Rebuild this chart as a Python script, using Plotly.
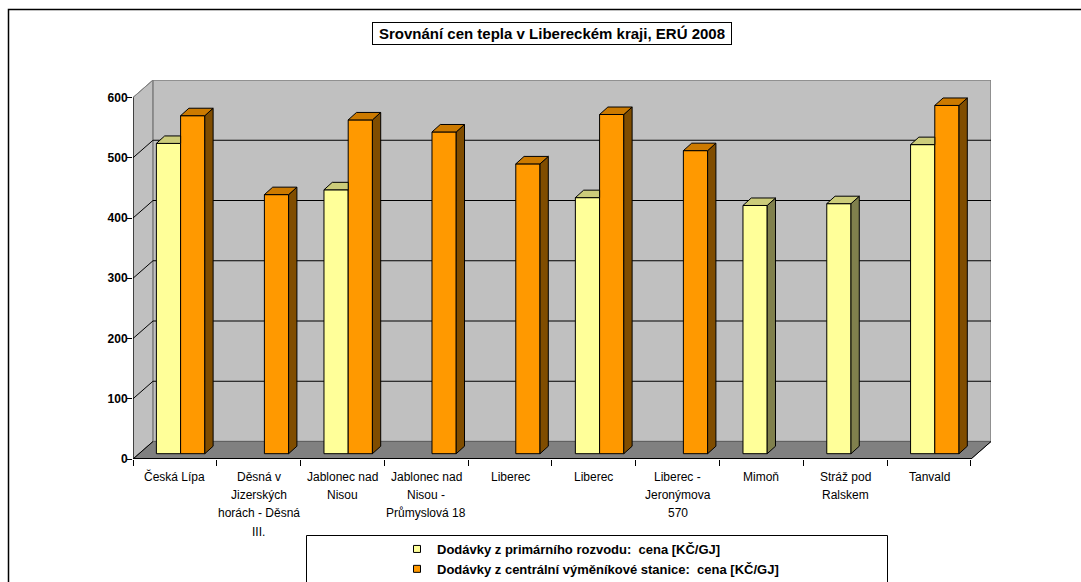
import plotly.graph_objects as go

# ---------------- data ----------------
categories = [
    "Česká Lípa",
    "Děsná v Jizerských horách - Děsná III.",
    "Jablonec nad Nisou",
    "Jablonec nad Nisou - Průmyslová 18",
    "Liberec",
    "Liberec",
    "Liberec - Jeronýmova 570",
    "Mimoň",
    "Stráž pod Ralskem",
    "Tanvald",
]
category_lines = [
    ["Česká Lípa"],
    ["Děsná v", "Jizerských", "horách - Děsná", "III."],
    ["Jablonec nad", "Nisou"],
    ["Jablonec nad", "Nisou -", "Průmyslová 18"],
    ["Liberec"],
    ["Liberec"],
    ["Liberec -", "Jeronýmova", "570"],
    ["Mimoň"],
    ["Stráž pod", "Ralskem"],
    ["Tanvald"],
]
primary = [515, None, 438, None, None, 425, None, 412, 415, 513]
central = [561, 430, 554, 534, 481, 563, 503, None, None, 578]
series_names = [
    "Dodávky z primárního rozvodu:&nbsp; cena [KČ/GJ]",
    "Dodávky z centrální výměníkové stanice:&nbsp; cena [KČ/GJ]",
]
y_ticks = [0, 100, 200, 300, 400, 500, 600]
title_text = "Srovnání cen tepla v Libereckém kraji, ERÚ 2008"

# ---------------- layout geometry ----------------
FIG_W, FIG_H = 1081, 582
L, R, T, B = 133, 991, 80, 459          # plot area in pixels
DX, DY = 0.2388, 29.04                  # depth of the 3D box (category / value units)
Y_MAX = 600 + DY
X_MIN, X_MAX = -0.5, 9.5 + DX
BAR_W = 0.289
BAR_DX, BAR_DY = 0.068, 8.8             # plane of the bars
FACE_DX, FACE_DY = 0.099, 12.4          # depth of a bar

n = len(categories)


def px_x(p):
    return (p - L) / (R - L)


def px_y(p):
    return (B - p) / (B - T)


FONT = "Liberation Sans, Arial, sans-serif"

colors = [
    dict(front="#FFFF99", top="#CCCC7A", side="#80804D"),
    dict(front="#FF9900", top="#CC7A00", side="#804D00"),
]
groups = ["primary", "central"]
series_vals = [primary, central]

fig = go.Figure()

# bars (front faces)
for k, vals in enumerate(series_vals):
    off = BAR_DX - BAR_W if k == 0 else BAR_DX
    fig.add_trace(go.Bar(
        x=list(range(n)), y=vals, base=BAR_DY, offset=off, width=BAR_W,
        marker=dict(color=colors[k]["front"], line=dict(color="black", width=1)),
        name=series_names[k], legendgroup=groups[k], showlegend=False,
        hoverinfo="skip",
    ))

# 3D faces (top and side) derived from the values
for k, vals in enumerate(series_vals):
    off = BAR_DX - BAR_W if k == 0 else BAR_DX
    side_x, side_y, top_x, top_y = [], [], [], []
    for i, v in enumerate(vals):
        if v is None:
            continue
        xl = i + off
        xr = xl + BAR_W
        b = BAR_DY
        t = BAR_DY + v
        hidden = (k == 0 and central[i] is not None and central[i] >= v)
        if not hidden:
            side_x += [xr, xr + FACE_DX, xr + FACE_DX, xr, xr, None]
            side_y += [b, b + FACE_DY, t + FACE_DY, t, b, None]
            top_x += [xl, xr, xr + FACE_DX, xl + FACE_DX, xl, None]
            top_y += [t, t, t + FACE_DY, t + FACE_DY, t, None]
        else:
            top_x += [xl, xr, xr, xl + FACE_DX, xl, None]
            top_y += [t, t, t + FACE_DY, t + FACE_DY, t, None]
    if side_x:
        fig.add_trace(go.Scatter(
            x=side_x, y=side_y, mode="lines", fill="toself",
            fillcolor=colors[k]["side"], line=dict(color="black", width=1),
            legendgroup=groups[k], showlegend=False, hoverinfo="skip",
        ))
    fig.add_trace(go.Scatter(
        x=top_x, y=top_y, mode="lines", fill="toself",
        fillcolor=colors[k]["top"], line=dict(color="black", width=1),
        legendgroup=groups[k], showlegend=False, hoverinfo="skip",
    ))

# legend entries
for k in range(2):
    fig.add_trace(go.Scatter(
        x=[None], y=[None], mode="markers",
        marker=dict(symbol="square", size=7, color=colors[k]["front"],
                    line=dict(color="black", width=1)),
        name=series_names[k], legendgroup=groups[k], showlegend=True,
    ))

# ---------------- walls, floor, grid ----------------
shapes = []
x0w, x1w = -0.5 + DX, 9.5 + DX
# left wall
shapes.append(dict(type="path", xref="x", yref="y", layer="below",
                   path=f"M -0.5,0 L {x0w},{DY} L {x0w},{600 + DY} L -0.5,600 Z",
                   fillcolor="#C0C0C0", line=dict(color="#808080", width=1)))
# back wall
shapes.append(dict(type="rect", xref="x", yref="y", layer="below",
                   x0=x0w, x1=x1w, y0=DY, y1=600 + DY,
                   fillcolor="#C0C0C0", line=dict(color="#808080", width=1.5)))
# floor
shapes.append(dict(type="path", xref="x", yref="y", layer="below",
                   path=f"M -0.5,0 L 9.5,0 L {x1w},{DY} L {x0w},{DY} Z",
                   fillcolor="#808080", line=dict(color="#606060", width=1)))
# back wall grid lines + left wall diagonals
for v in y_ticks:
    if 0 < v < 600:
        shapes.append(dict(type="line", xref="x", yref="y", layer="below",
                           x0=x0w, x1=x1w, y0=v + DY, y1=v + DY,
                           line=dict(color="black", width=1)))
    shapes.append(dict(type="line", xref="x", yref="y", layer="below",
                       x0=-0.5, x1=x0w, y0=v, y1=v + DY,
                       line=dict(color="black" if v < 600 else "#808080", width=1)))
# front axes lines
shapes.append(dict(type="line", xref="x", yref="y", layer="below",
                   x0=-0.5, x1=-0.5, y0=0, y1=600, line=dict(color="black", width=1.2)))
shapes.append(dict(type="line", xref="x", yref="y", layer="below",
                   x0=-0.5, x1=9.5, y0=0, y1=0, line=dict(color="black", width=2)))
shapes.append(dict(type="line", xref="x", yref="y", layer="below",
                   x0=9.5, x1=x1w, y0=0, y1=DY, line=dict(color="black", width=1)))

# chart border & legend box
shapes.append(dict(type="rect", xref="paper", yref="paper",
                   x0=px_x(8.5), x1=px_x(1100), y0=px_y(9.5), y1=px_y(600),
                   line=dict(color="black", width=1.5)))
shapes.append(dict(type="rect", xref="paper", yref="paper",
                   x0=px_x(306.5), x1=px_x(887.5), y0=px_y(535.5), y1=px_y(600),
                   line=dict(color="black", width=1)))

# ---------------- annotations ----------------
annotations = []
for i, lines in enumerate(category_lines):
    for j, line in enumerate(lines):
        annotations.append(dict(
            x=i, xref="x", y=px_y(476.7 + j * 18.3), yref="paper",
            text=line, showarrow=False, xanchor="center", yanchor="middle",
            font=dict(family=FONT, size=12, color="black"),
        ))
annotations.append(dict(
    x=px_x(551.7), xref="paper", y=px_y(33.3), yref="paper",
    text=title_text, showarrow=False, xanchor="center", yanchor="middle",
    font=dict(family=FONT, size=15, color="black", weight="bold"),
    bordercolor="black", borderwidth=1, borderpad=1, width=356, height=19,
    bgcolor="white",
))

fig.update_layout(
    width=FIG_W, height=FIG_H,
    margin=dict(l=L, r=FIG_W - R, t=T, b=FIG_H - B, pad=0, autoexpand=False),
    paper_bgcolor="white", plot_bgcolor="white",
    barmode="overlay",
    shapes=shapes, annotations=annotations,
    showlegend=True,
    legend=dict(
        x=px_x(397), y=px_y(534), xanchor="left", yanchor="top",
        bgcolor="rgba(0,0,0,0)", borderwidth=0,
        font=dict(family=FONT, size=13, color="black", weight="bold"),
        tracegroupgap=0, traceorder="grouped",
    ),
    xaxis=dict(
        range=[X_MIN, X_MAX], showgrid=False, zeroline=False, showline=False,
        tickmode="array", tickvals=[i - 0.5 for i in range(n + 1)],
        ticktext=[""] * (n + 1), ticks="outside", ticklen=6, tickcolor="black",
        tickwidth=1, fixedrange=True,
    ),
    yaxis=dict(
        range=[0, Y_MAX], showgrid=False, zeroline=False, showline=False,
        tickmode="array", tickvals=y_ticks, ticks="outside", ticklen=5,
        tickcolor="black", tickwidth=1, ticklabelstandoff=-3,
        tickfont=dict(family=FONT, size=12, color="black", weight="bold"),
        fixedrange=True,
    ),
)

fig.write_html("out.html")
